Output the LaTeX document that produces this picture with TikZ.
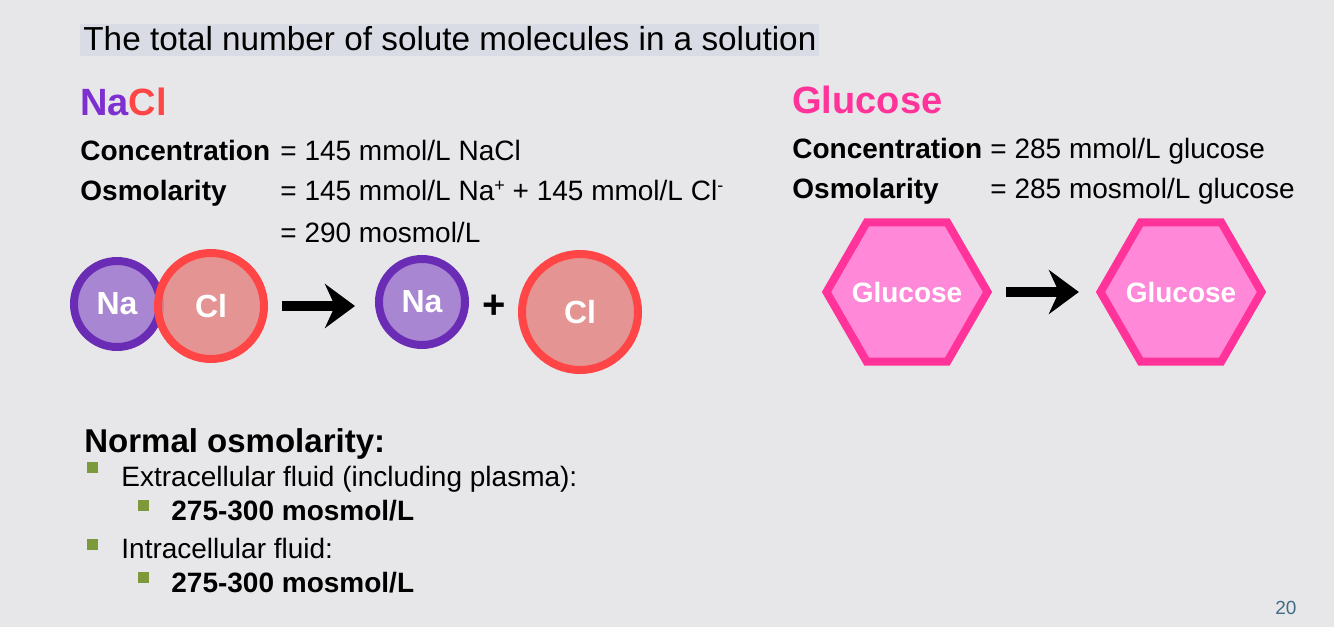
\documentclass[tikz,border=0pt]{standalone}
\usepackage{fontspec}
\setmainfont{Liberation Sans}
\usetikzlibrary{shapes.geometric,arrows.meta}
\definecolor{slidebg}{RGB}{231,231,233}
\definecolor{titlebg}{RGB}{217,220,229}
\definecolor{napurple}{RGB}{107,44,181}
\definecolor{nafill}{RGB}{168,134,210}
\definecolor{clred}{RGB}{255,69,69}
\definecolor{clfill}{RGB}{228,138,136}
\definecolor{headpurple}{RGB}{126,47,208}
\definecolor{glupink}{RGB}{255,51,153}
\definecolor{glufill}{RGB}{255,136,216}
\definecolor{bulletgreen}{RGB}{124,154,60}
\definecolor{pagenum}{RGB}{63,109,133}
\newcommand{\ionsign}[1]{\raisebox{0.55ex}{\fontsize{9}{9}\selectfont#1}}
\newcommand{\hexlabel}[1]{\makebox[0pt]{#1}}

\begin{document}
\begin{tikzpicture}[x=0.5pt, y=-0.5pt]
\tikzstyle{txt} = [anchor=base west, inner sep=0pt, font=\fontsize{14}{16}\selectfont]
\tikzstyle{bold} = [anchor=base west, inner sep=0pt, font=\fontsize{14}{16}\selectfont\bfseries]
\tikzstyle{head} = [anchor=base west, inner sep=0pt, font=\fontsize{19}{22}\selectfont\bfseries]
\tikzstyle{ion} = [circle, line width=4pt, inner sep=0pt, text=white, font=\fontsize{16}{18}\selectfont\bfseries]
\tikzstyle{sodium} = [ion, draw=napurple, fill=nafill, minimum size=43pt]
\tikzstyle{chloride} = [ion, draw=clred, fill=clfill, fill opacity=0.88, text opacity=1]
\tikzstyle{glucose} = [regular polygon, regular polygon sides=6, draw=glupink, fill=glufill, line width=4pt, minimum size=80.5pt, inner sep=0pt, text=white, font=\fontsize{14}{16}\selectfont\bfseries]
\tikzstyle{arrow} = [line width=5pt, -{Stealth[length=15pt, width=22pt, inset=5pt]}]
\tikzstyle{bullet} = [rectangle, fill=bulletgreen, minimum size=5.5pt, inner sep=0pt]

% slide
\fill[slidebg] (0,0) rectangle (1334,627);
\useasboundingbox (0,0) rectangle (1334,627);

\node (Title) [anchor=base west, fill=titlebg, inner xsep=1.5pt, inner ysep=0pt, text height=13pt, text depth=3pt, font=\fontsize{16.65}{18}\selectfont] at (80,50) {The total number of solute molecules in a solution};

% NaCl column
\node (NaclHead) [head] at (80,115) {\textcolor{headpurple}{Na}\textcolor{clred}{Cl}};
\node (NaclConcLabel) [bold] at (80,160) {Concentration};
\node (NaclConc) [txt] at (280,160) {= 145 mmol/L NaCl};
\node (NaclOsmLabel) [bold] at (80,200) {Osmolarity};
\node (NaclOsm) [txt] at (280,200) {= 145 mmol/L Na\ionsign{+} + 145 mmol/L Cl\ionsign{-}};
\node (NaclTotal) [txt] at (280,242) {= 290 mosmol/L};

\node (NaA) [sodium] at (117,304) {Na};
\node (ClA) [chloride, minimum size=53pt] at (211,306) {Cl};
\node (NaB) [sodium] at (422,302) {Na};
\node (Plus) [inner sep=0pt, font=\fontsize{20}{22}\selectfont\bfseries] at (494,307) {+};
\node (ClB) [chloride, minimum size=58pt] at (580,312) {Cl};

\draw [arrow, shorten <=7pt, shorten >=10pt] (ClA.east) -- (ClA.east -| NaB.west);

% glucose column
\node (GluHead) [head, text=glupink] at (792,113) {Glucose};
\node (GluConcLabel) [bold] at (792,158) {Concentration};
\node (GluConc) [txt] at (990,158) {= 285 mmol/L glucose};
\node (GluOsmLabel) [bold] at (792,198) {Osmolarity};
\node (GluOsm) [txt] at (990,198) {= 285 mosmol/L glucose};

\node (GluA) [glucose] at (907,292) {\hexlabel{Glucose}};
\node (GluB) [glucose] at (1181,292) {\hexlabel{Glucose}};

\draw [arrow, shorten <=7pt, shorten >=8.5pt] (GluA.east) -- (GluB.west);

% normal values
\node (NormalHead) [anchor=base west, inner sep=0pt, font=\fontsize{16.5}{18}\selectfont\bfseries] at (84,452) {Normal osmolarity:};
\node (BulletEcf) [bullet] at (92,467) {};
\node (Ecf) [txt] at (121,486) {Extracellular fluid (including plasma):};
\node (BulletEcfVal) [bullet] at (143,505) {};
\node (EcfVal) [bold] at (171,520) {275-300 mosmol/L};
\node (BulletIcf) [bullet] at (92,544) {};
\node (Icf) [txt] at (121,558) {Intracellular fluid:};
\node (BulletIcfVal) [bullet] at (143,577) {};
\node (IcfVal) [bold] at (171,592) {275-300 mosmol/L};

\node (PageNum) [anchor=base west, inner sep=0pt, text=pagenum, font=\fontsize{9.5}{11}\selectfont] at (1275,614) {20};
\end{tikzpicture}
\end{document}
